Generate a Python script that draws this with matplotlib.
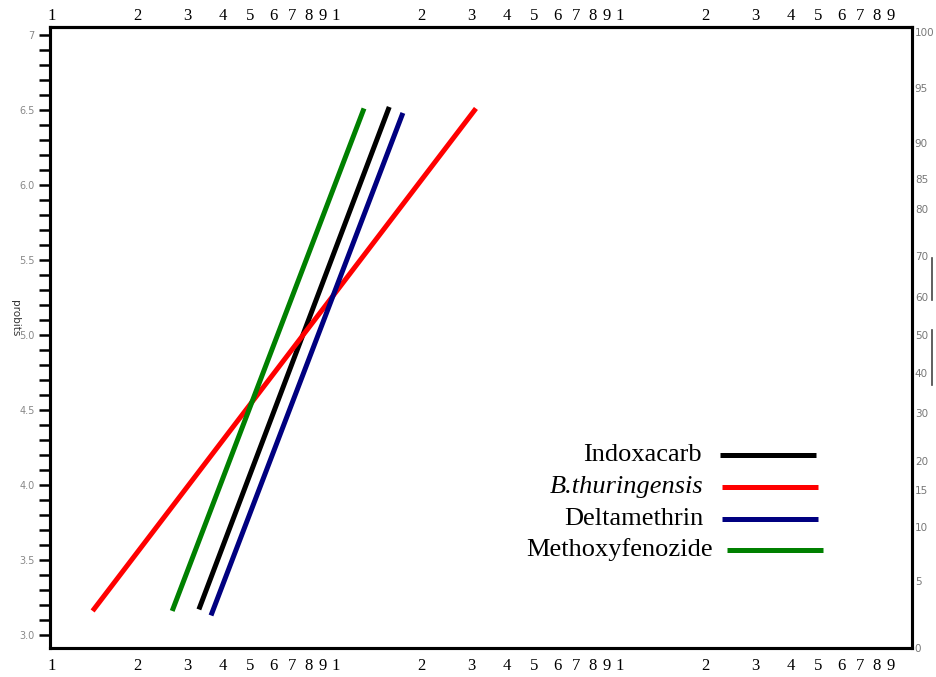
import numpy as np
import matplotlib
matplotlib.use("Agg")
import matplotlib.pyplot as plt
from statistics import NormalDist

# dose (log axis) at the two ends of each fitted probit line
names = ["Indoxacarb", "B.thuringensis", "Deltamethrin", "Methoxyfenozide"]
colors = ["black", "#ff0000", "#000080", "#008000"]
dose_lo = [3.29, 1.39, 3.63, 2.65]
dose_hi = [15.4, 31.1, 17.2, 12.55]
probit_lo = [3.17, 3.16, 3.13, 3.16]
probit_hi = [6.52, 6.51, 6.48, 6.51]

probit_ticks = [3.0, 3.5, 4.0, 4.5, 5.0, 5.5, 6.0, 6.5, 7.0]
probit_labels = ["3.0", "3.5", "4.0", "4.5", "5.0", "5.5", "6.0", "6.5", "7"]
pct_ticks = [95, 90, 85, 80, 70, 60, 50, 40, 30, 20, 15, 10, 5]
digits = list(range(1, 10))
decades = [1, 10, 100]


def main():
    fig = plt.figure(figsize=(9.36, 6.77), dpi=100)
    ax = fig.add_axes([50 / 936, 1 - 648 / 677, 862 / 936, 621 / 677])
    ax.set_xscale("log")
    ax.set_xlim(0.984, 1067)
    ax.set_ylim(2.913, 7.053)

    for lo, hi, plo, phi, c in zip(dose_lo, dose_hi, probit_lo, probit_hi, colors):
        ax.plot([lo, hi], [plo, phi], color=c, lw=3.6, solid_capstyle="butt")

    # log-cycle labels top and bottom
    xt = [d * k for d in decades for k in digits]
    xl = [str(k) for d in decades for k in digits]
    ax.set_xticks(xt)
    ax.set_xticks([], minor=True)
    ax.set_xticklabels(xl, family="Liberation Serif", fontsize=12)
    ax.tick_params(axis="x", length=0, pad=7)
    top = ax.secondary_xaxis("top")
    top.set_xticks(xt)
    top.set_xticks([], minor=True)
    top.set_xticklabels(xl, family="Liberation Serif", fontsize=12)
    top.tick_params(axis="x", length=0, pad=2)

    # probit scale on the left
    ax.set_yticks(probit_ticks)
    ax.set_yticklabels(probit_labels, fontsize=7, color="#888888")
    ax.set_yticks(np.arange(3.0, 7.01, 0.1), minor=True)
    ax.tick_params(axis="y", which="both", length=8, width=1.8, direction="out",
                   pad=3)
    ax.yaxis.set_minor_formatter(plt.NullFormatter())

    # percent scale on the right
    ax2 = ax.twinx()
    ax2.set_ylim(ax.get_ylim())
    nd = NormalDist(5, 1)
    rt = [7.02] + [nd.inv_cdf(p / 100) for p in pct_ticks] + [2.91]
    ax2.set_yticks(rt)
    ax2.set_yticklabels(["100"] + [str(p) for p in pct_ticks] + ["0"],
                        fontsize=7.5, color="#777777")
    ax2.tick_params(axis="y", length=0, pad=2)

    for a in (ax, ax2, top):
        for s in a.spines.values():
            s.set_linewidth(2.2)

    fig.text(15 / 936, 1 - 318 / 677, "probits", rotation=-90, fontsize=7.5,
             ha="center", va="center", color="#333333")

    # hand-drawn legend
    ly = [455, 487, 519, 550]
    lx0 = [720, 722, 722, 727]
    lxt = [702, 703, 703, 713]
    for n, c, y, x0, xt_ in zip(names, colors, ly, lx0, lxt):
        yy = 1 - y / 677
        fig.text(xt_ / 936, yy, n, ha="right", va="center", fontsize=19,
                 family="Liberation Serif",
                 style="italic" if n.startswith("B.") else "normal")
        fig.add_artist(plt.Line2D([x0 / 936, (x0 + 96) / 936], [yy, yy],
                                  color=c, lw=3.6, solid_capstyle="butt"))

    # bracket marks beside the right scale
    for y0, y1 in [(258, 300), (330, 385)]:
        fig.add_artist(plt.Line2D([932 / 936, 932 / 936],
                                  [1 - y0 / 677, 1 - y1 / 677],
                                  color="#444444", lw=1.2))

    fig.savefig("out.png", dpi=100)
    plt.close(fig)


if __name__ == "__main__":
    main()
